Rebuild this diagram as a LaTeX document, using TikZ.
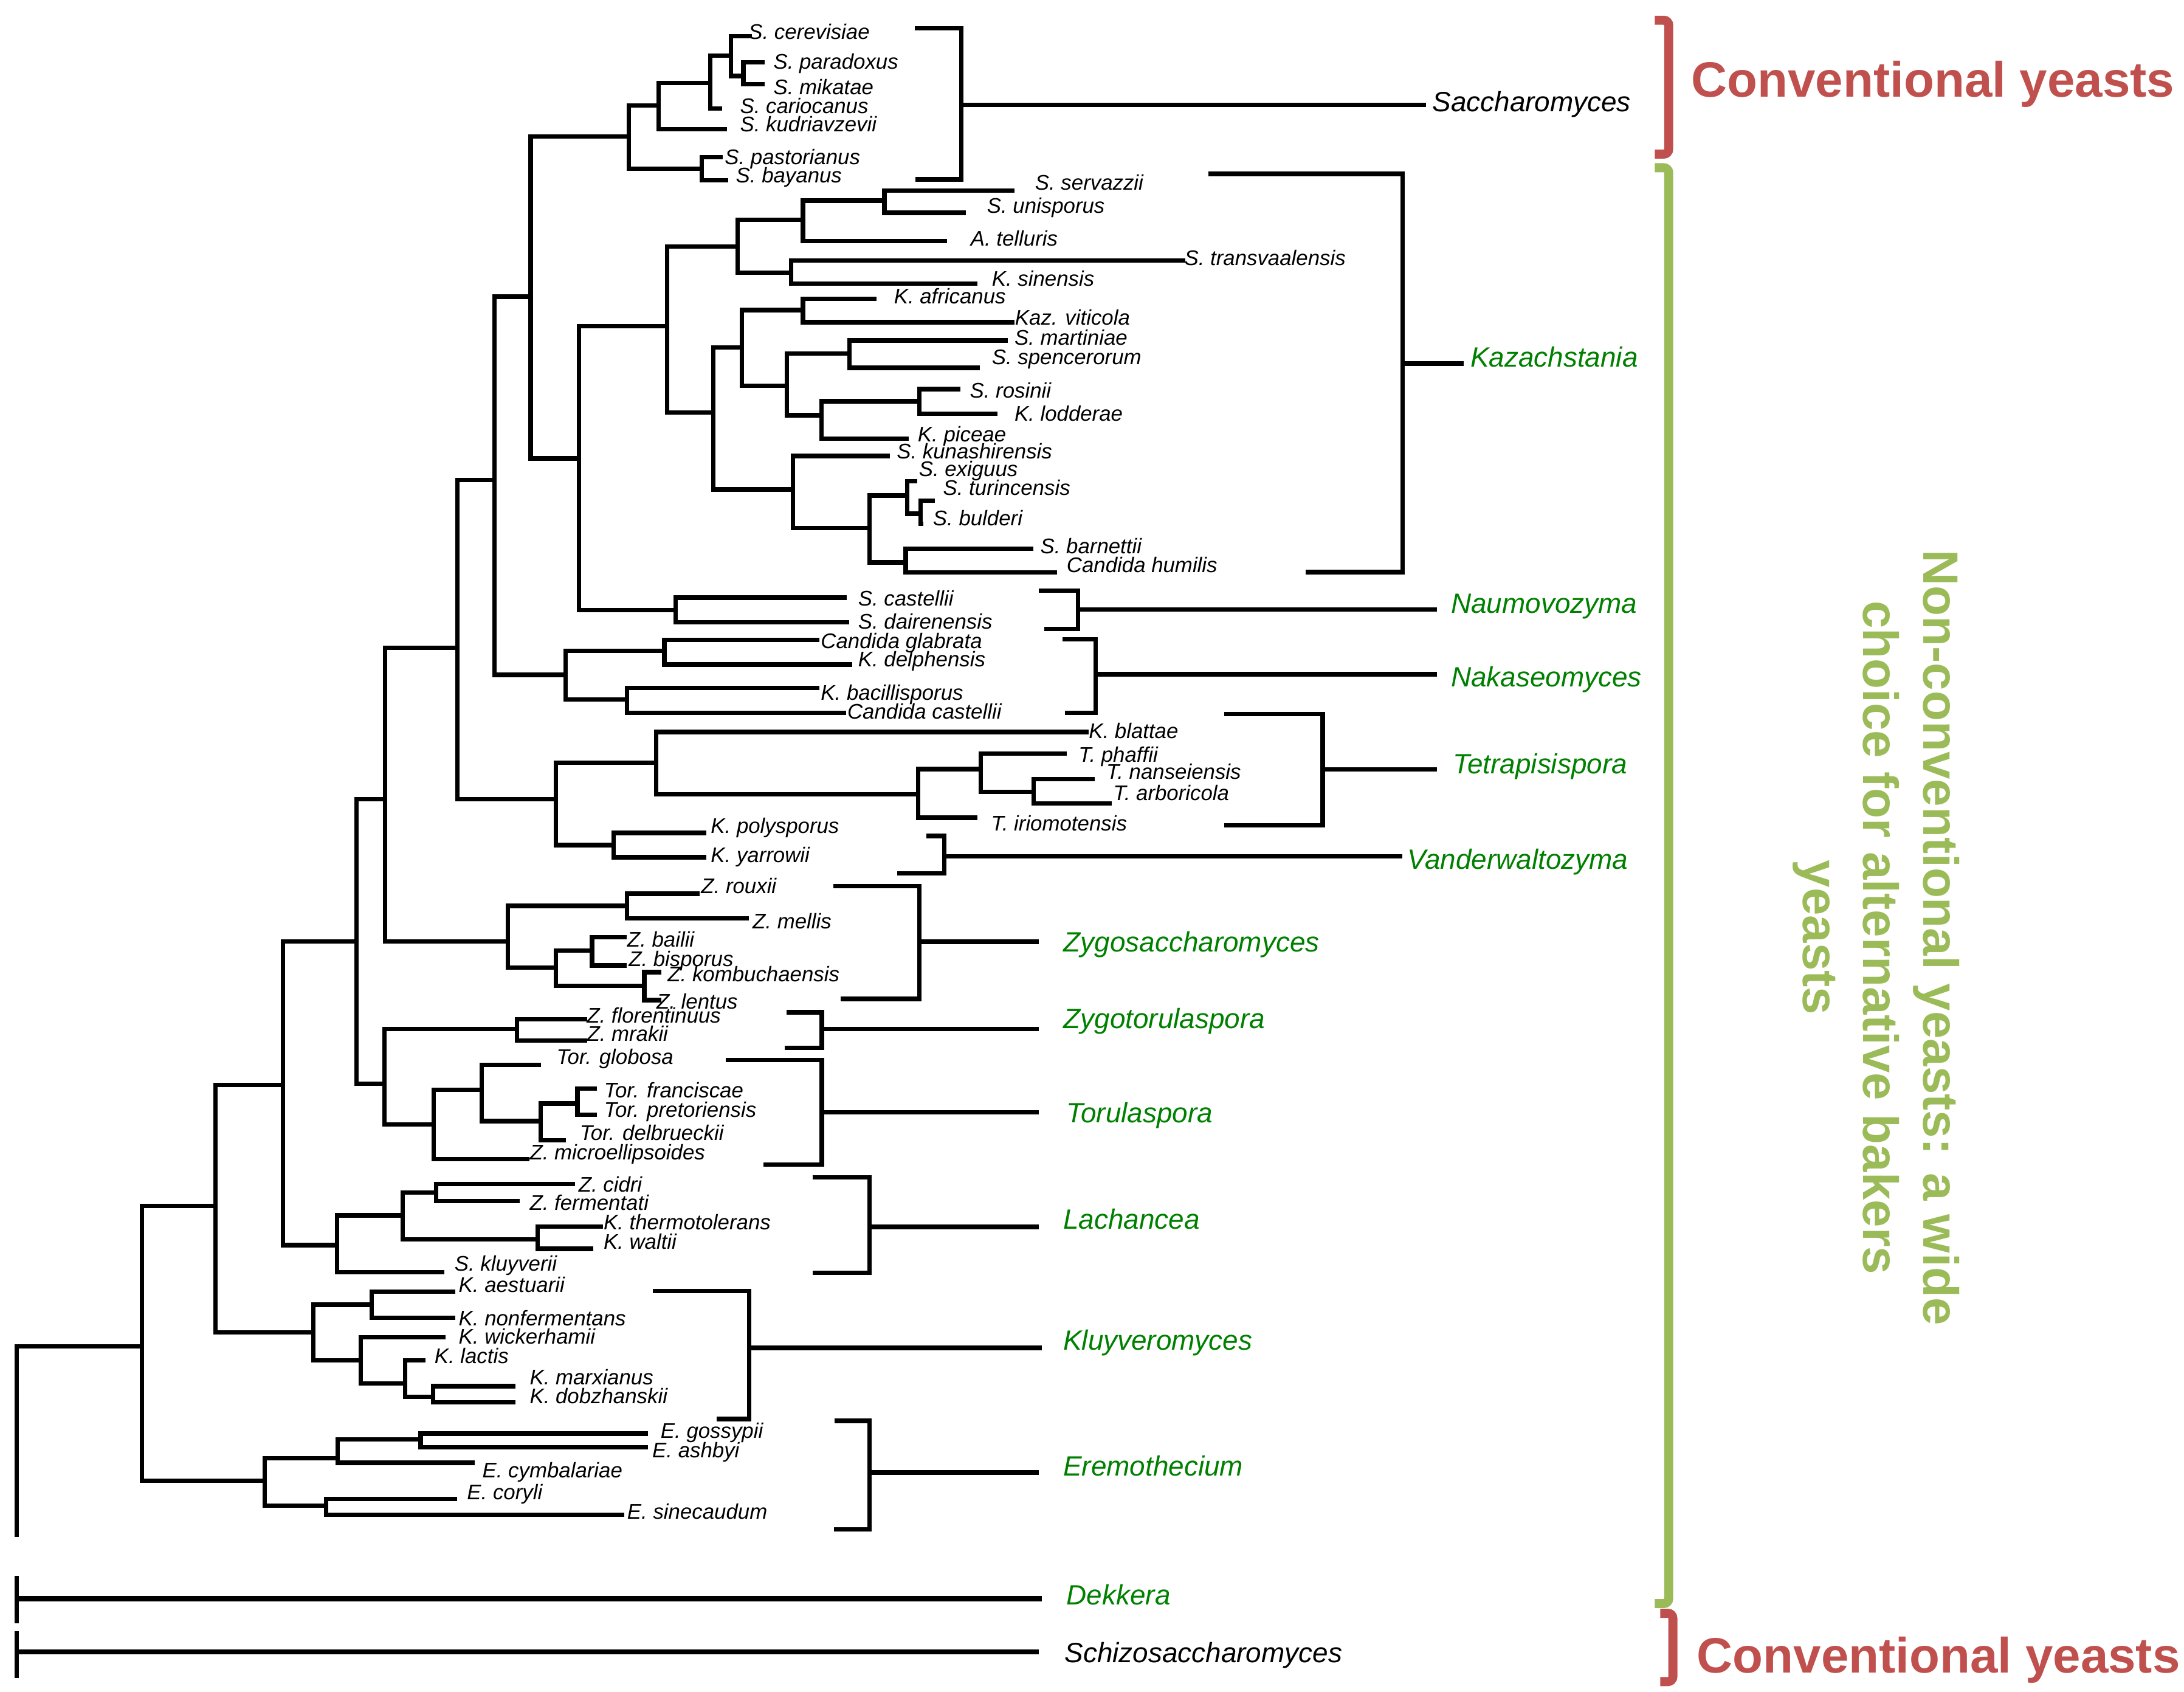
\documentclass[tikz,border=0pt]{standalone}
\usepackage{fontspec}
\setmainfont{Liberation Sans}
\definecolor{cred}{RGB}{192,80,77}
\definecolor{cgreen}{RGB}{155,187,89}
\definecolor{dgreen}{RGB}{0,128,0}
\tikzset{
 br/.style={line width=1.8pt},
 obr/.style={line width=2.1pt},
 sp/.style={anchor=west, inner sep=0pt, font=\fontsize{8.65}{10}\selectfont\itshape, text height=6.2pt, text depth=0pt},
 grp/.style={anchor=west, inner sep=0pt, font=\fontsize{11.4}{13}\selectfont\itshape, text height=8.15pt, text depth=0pt},
 grpg/.style={grp, text=dgreen},
 big/.style={inner sep=0pt, font=\fontsize{20.3}{24.5}\selectfont\bfseries},
 cbr/.style={line width=3.7pt, rounded corners=2pt}
}
\newcommand\mkleaf[6]{\coordinate (#1) at (#2,#3); \node[sp] (#1l) at (#4,#5) {#6};}
\newcommand\mknode[5]{\coordinate (#1) at (#2,#3); \draw[br] (#4) -| (#1) |- (#5);}
\newcommand\mkbrk[8]{\coordinate (#1a) at (#2,#3); \coordinate (#1b) at (#4,#3);
 \coordinate (#1c) at (#4,#6); \coordinate (#1d) at (#5,#6);
 \coordinate (#1s) at (#4,#7); \coordinate (#1e) at (#8,#7);
 \draw[br] (#1a) -- (#1b) -- (#1c) -- (#1d); \draw[br] (#1s) -- (#1e);}
\begin{document}
\begin{tikzpicture}[x=0.02cm,y=-0.02cm]
\useasboundingbox (0,0) rectangle (1568,1214.1);
% ---------- Saccharomyces
\mkleaf{cer}{540}{26}{537}{22.5}{S. cerevisiae}
\mkleaf{par}{549}{44.8}{555}{44}{S. paradoxus}
\mkleaf{mik}{549}{60.4}{555}{62.5}{S. mikatae}
\mkleaf{car}{518.5}{77.8}{531}{76}{S. cariocanus}
\mkleaf{kud}{522}{92.8}{531}{89}{S. kudriavzevii}
\mkleaf{pas}{519}{112.7}{520}{112.7}{S. pastorianus}
\mkleaf{bay}{523}{129.5}{528}{125.7}{S. bayanus}
\mknode{spm}{533.7}{54.5}{par}{mik}
\mknode{scpm}{524.8}{40}{cer}{spm}
\mknode{scpmc}{510}{59.6}{scpm}{car}
\mknode{sfive}{473}{75.6}{scpmc}{kud}
\mknode{spb}{503.7}{121}{pas}{bay}
\mknode{sacc}{451.6}{98}{sfive}{spb}
% ---------- Kazachstania
\mkleaf{serv}{728.4}{136.7}{742.8}{130.8}{S. servazzii}
\mkleaf{unis}{693.5}{152.7}{708.3}{147.6}{S. unisporus}
\mkleaf{tell}{680}{173}{696.5}{171}{A. telluris}
\mkleaf{trans}{850.8}{186.9}{850}{185}{S. transvaalensis}
\mkleaf{sinen}{701.7}{203.7}{711.8}{200}{K. sinensis}
\mkleaf{afri}{629.2}{214.6}{641.5}{212.7}{K. africanus}
\mkleaf{vitic}{728.4}{231.3}{728.4}{228}{Kaz. viticola}
\mkleaf{mart}{723.4}{244.4}{728}{242}{S. martiniae}
\mkleaf{spen}{703.4}{264}{711.8}{256}{S. spencerorum}
\mkleaf{rosi}{689.3}{279.3}{696}{280.2}{S. rosinii}
\mkleaf{lodd}{716}{296.8}{728}{296.8}{K. lodderae}
\mkleaf{pice}{652.4}{315}{658.6}{311.5}{K. piceae}
\mkleaf{kuna}{638.8}{327.3}{643.5}{324}{S. kunashirensis}
\mkleaf{exig}{658.5}{345.5}{659.4}{336.6}{S. exiguus}
\mkleaf{turi}{671}{359.3}{676.8}{350}{S. turincensis}
\mkleaf{buld}{663}{376}{669.5}{372}{S. bulderi}
\mkleaf{barn}{742}{394}{746.6}{391.9}{S. barnettii}
\mkleaf{humi}{759}{411}{765.5}{405.2}{Candida humilis}
\mknode{ksu}{635}{144}{serv}{unis}
\mknode{ksut}{576.5}{157.8}{ksu}{tell}
\mknode{kts}{568}{195.6}{trans}{sinen}
\mknode{ka}{529.7}{176.8}{ksut}{kts}
\mknode{kav}{576.5}{222.6}{afri}{vitic}
\mknode{kms}{610}{253.8}{mart}{spen}
\mknode{krl}{660}{288}{rosi}{lodd}
\mknode{krlp}{589.8}{298}{krl}{pice}
\mknode{kmsrlp}{564.8}{277}{kms}{krlp}
\mknode{kbone}{532.5}{249.5}{kav}{kmsrlp}
\mknode{ktb}{661}{368.8}{turi}{buld}
\mknode{ketb}{651.4}{355.7}{exig}{ktb}
\mknode{kbh}{650.2}{403.7}{barn}{humi}
\mknode{kcthree}{624.3}{379}{ketb}{kbh}
\mknode{kkc}{569.3}{351.3}{kuna}{kcthree}
\mknode{kbtwo}{512}{296}{kbone}{kkc}
\mknode{kaz}{479}{234.2}{ka}{kbtwo}
% ---------- Naumovozyma
\mkleaf{cast}{608}{429}{615.8}{429.6}{S. castellii}
\mkleaf{dair}{609.6}{446.6}{615.8}{446}{S. dairenensis}
\mknode{naum}{485}{437.8}{cast}{dair}
\mknode{nfour}{415.7}{329}{kaz}{naum}
\mknode{nthree}{381}{213}{sacc}{nfour}
% ---------- Nakaseomyces
\mkleaf{glab}{588.3}{459.4}{589}{459.9}{Candida glabrata}
\mkleaf{delp}{611.9}{477}{615.8}{473}{K. delphensis}
\mkleaf{baci}{588.3}{493.9}{589}{497}{K. bacillisporus}
\mkleaf{ccas}{607.3}{511.7}{608}{510.5}{Candida castellii}
\mknode{nkone}{477}{467}{glab}{delp}
\mknode{nktwo}{450}{502}{baci}{ccas}
\mknode{naka}{406.2}{484.4}{nkone}{nktwo}
\mknode{nthreefive}{355}{344.5}{nthree}{naka}
% ---------- Tetrapisispora / Vanderwaltozyma
\mkleaf{blat}{781.4}{525.4}{781.4}{524.7}{K. blattae}
\mkleaf{phaf}{765.7}{540.8}{774}{541.5}{T. phaffii}
\mkleaf{nans}{786}{559.3}{794}{553.7}{T. nanseiensis}
\mkleaf{arbo}{798}{576.8}{799}{569}{T. arboricola}
\mkleaf{irio}{701.8}{587}{711.3}{591}{T. iriomotensis}
\mknode{tna}{742}{568.5}{nans}{arbo}
\mknode{tpna}{704.2}{552}{phaf}{tna}
\mknode{tpnai}{659.3}{570.2}{tpna}{irio}
\mknode{tetra}{471}{547.3}{blat}{tpnai}
\mkleaf{poly}{507}{597.9}{510}{592.6}{K. polysporus}
\mkleaf{yarr}{507}{615.3}{510}{613.5}{K. yarrowii}
\mknode{vand}{440.7}{606.6}{poly}{yarr}
\mknode{tv}{399}{573.5}{tetra}{vand}
\mknode{nthreetwo}{328.5}{465}{nthreefive}{tv}
% ---------- Zygosaccharomyces
\mkleaf{roux}{502.3}{641.5}{503}{635.7}{Z. rouxii}
\mkleaf{mell}{537.7}{659.3}{540}{661}{Z. mellis}
\mkleaf{bail}{450}{672.8}{450}{674.2}{Z. bailii}
\mkleaf{bisp}{450}{693}{451}{688}{Z. bisporus}
\mkleaf{komb}{475}{697.8}{479}{699}{Z. kombuchaensis}
\mkleaf{lent}{475}{717.9}{471}{718.6}{Z. lentus}
\mknode{zrm}{450}{650.2}{roux}{mell}
\mknode{zbb}{425}{682.2}{bail}{bisp}
\mknode{zkl}{462.6}{707.7}{komb}{lent}
\mknode{zbbkl}{399.2}{694.6}{zbb}{zkl}
\mknode{zygo}{364.5}{675.7}{zrm}{zbbkl}
\mknode{ntwoseven}{276.5}{573.6}{nthreetwo}{zygo}
% ---------- Zygotorulaspora / Torulaspora
\mkleaf{flor}{421.7}{731.7}{420.9}{728.8}{Z. florentinuus}
\mkleaf{mrak}{421.7}{747}{421}{742}{Z. mrakii}
\mknode{zt}{371}{738.7}{flor}{mrak}
\mkleaf{glob}{388.3}{764.4}{399.2}{758.6}{Tor. globosa}
\mkleaf{fran}{428.4}{781.4}{433.4}{782.3}{Tor. franciscae}
\mkleaf{pret}{428.4}{800}{433.4}{796.4}{Tor. pretoriensis}
\mkleaf{delb}{406.3}{818.3}{415.9}{813}{Tor. delbrueckii}
\mkleaf{micr}{380}{832}{380}{827}{Z. microellipsoides}
\mknode{tfp}{414.6}{792}{fran}{pret}
\mknode{tfpd}{388.3}{804.7}{tfp}{delb}
\mknode{tg}{345.7}{782.3}{glob}{tfpd}
\mknode{toru}{311.4}{807.2}{tg}{micr}
\mknode{ntwosevenb}{276}{778}{zt}{toru}
\mknode{ntwofive}{256}{675.7}{ntwoseven}{ntwosevenb}
% ---------- Lachancea
\mkleaf{cidr}{413}{850}{415}{850}{Z. cidri}
\mkleaf{ferm}{373}{862}{380}{863}{Z. fermentati}
\mkleaf{ther}{433}{880.4}{433}{877}{K. thermotolerans}
\mkleaf{walt}{426}{896.4}{433}{891}{K. waltii}
\mkleaf{kluy}{319}{913}{326}{907}{S. kluyverii}
\mknode{lcf}{313}{856}{cidr}{ferm}
\mknode{ltw}{386}{889.7}{ther}{walt}
\mknode{lcftw}{289}{872.3}{lcf}{ltw}
\mknode{lach}{242}{893.7}{lcftw}{kluy}
\mknode{ntwozero}{203}{778.8}{ntwofive}{lach}
% ---------- Kluyveromyces
\mkleaf{aest}{327}{927}{329}{922}{K. aestuarii}
\mkleaf{nonf}{327}{946}{329}{946}{K. nonfermentans}
\mkleaf{wick}{320}{960}{329}{959}{K. wickerhamii}
\mkleaf{lact}{305.5}{976.5}{311.6}{973}{K. lactis}
\mkleaf{marx}{370}{995}{380}{988.5}{K. marxianus}
\mkleaf{dobz}{370}{1006.6}{380}{1002}{K. dobzhanskii}
\mknode{klan}{267}{936.5}{aest}{nonf}
\mknode{klmd}{311}{1002.6}{marx}{dobz}
\mknode{kllmd}{291}{993}{lact}{klmd}
\mknode{klwl}{259}{976.5}{wick}{kllmd}
\mknode{kluyv}{225}{956.5}{klan}{klwl}
\mknode{nonefive}{154.6}{865.7}{ntwozero}{kluyv}
% ---------- Eremothecium
\mkleaf{goss}{465}{1029}{474}{1027}{E. gossypii}
\mkleaf{ashb}{465}{1039}{468}{1041}{E. ashbyi}
\mkleaf{cymb}{341}{1050}{346}{1055}{E. cymbalariae}
\mkleaf{cory}{328}{1076}{335}{1071}{E. coryli}
\mkleaf{sine}{448}{1087.4}{450}{1085}{E. sinecaudum}
\mknode{ega}{302}{1033}{goss}{ashb}
\mknode{egac}{242.4}{1046.7}{ega}{cymb}
\mknode{ecs}{234}{1080.7}{cory}{sine}
\mknode{erem}{190}{1062.7}{egac}{ecs}
\mknode{nonezero}{102}{966.5}{nonefive}{erem}
\coordinate (root) at (12,966.5);
\coordinate (rootend) at (12,1103.4);
\draw[br] (nonezero) -- (root) -- (rootend);
% ---------- outgroups
\coordinate (dka) at (12,1131); \coordinate (dkb) at (12,1165);
\coordinate (dkc) at (12,1147.5); \coordinate (dkd) at (748,1147.5);
\draw[br] (dka) -- (dkb); \draw[obr] (dkc) -- (dkd);
\coordinate (sza) at (12,1171); \coordinate (szb) at (12,1204.5);
\coordinate (szc) at (12,1185.6); \coordinate (szd) at (746,1185.6);
\draw[br] (sza) -- (szb); \draw[obr] (szc) -- (szd);
% ---------- brackets
\mkbrk{Bsac}{656.8}{20.4}{690}{657}{128.7}{75.3}{1024}
\mkbrk{Bkaz}{867.5}{124.8}{1007}{937.6}{410.6}{261}{1051}
\mkbrk{Bnau}{746}{424}{774}{749.7}{451.4}{437.4}{1031.6}
\mkbrk{Bnak}{763}{459}{786.7}{764.5}{511.7}{484}{1031.6}
\mkbrk{Btet}{879}{512.6}{949.6}{879}{592.4}{552.3}{1031.6}
\mkbrk{Bvan}{665}{600}{678}{644}{627}{614.6}{1006.6}
\mkbrk{Bzyg}{598.3}{636}{660}{603.7}{717}{676}{745.6}
\mkbrk{Bzto}{564.9}{726.6}{590}{563.6}{752}{738.7}{745.6}
\mkbrk{Btor}{521}{761}{590}{548}{836}{798.3}{745.6}
\mkbrk{Blac}{583.3}{845}{624.3}{583.3}{913.7}{880.6}{745.6}
\mkbrk{Bklu}{468.5}{926.7}{538}{514.3}{1018.5}{967.5}{748}
\mkbrk{Bere}{599}{1019.9}{624.3}{598.8}{1097.6}{1057}{745.6}
% ---------- group labels
\node[grp] (gsac) at (1028,72.7) {Saccharomyces};
\node[grpg] (gkaz) at (1055.3,256) {Kazachstania};
\node[grpg] (gnau) at (1041.4,433) {Naumovozyma};
\node[grpg] (gnak) at (1041.4,485.7) {Nakaseomyces};
\node[grpg] (gtet) at (1042.8,548) {Tetrapisispora};
\node[grpg] (gvan) at (1010,616.7) {Vanderwaltozyma};
\node[grpg] (gzyg) at (763.2,676) {Zygosaccharomyces};
\node[grpg] (gzto) at (763.2,731) {Zygotorulaspora};
\node[grpg] (gtor) at (765.3,798.8) {Torulaspora};
\node[grpg] (glac) at (763,875) {Lachancea};
\node[grpg] (gklu) at (763,962) {Kluyveromyces};
\node[grpg] (gere) at (763,1052) {Eremothecium};
\node[grpg] (gdek) at (765.4,1144.8) {Dekkera};
\node[grp] (gsch) at (764,1186) {Schizosaccharomyces};
% ---------- coloured brackets
\coordinate (raa) at (1188,14.5); \coordinate (rab) at (1198,14.5);
\coordinate (rac) at (1198,110.6); \coordinate (rad) at (1188,110.6);
\draw[cbr, cred] (raa) -- (rab) -- (rac) -- (rad);
\coordinate (gaa) at (1188,120.4); \coordinate (gab) at (1198,120.4);
\coordinate (gac) at (1198,1151); \coordinate (gad) at (1188,1151);
\draw[cbr, cgreen] (gaa) -- (gab) -- (gac) -- (gad);
\coordinate (rba) at (1192,1158); \coordinate (rbb) at (1201,1158);
\coordinate (rbc) at (1201,1207); \coordinate (rbd) at (1192,1207);
\draw[cbr, cred] (rba) -- (rbb) -- (rbc) -- (rbd);
\node[big, text=cred, anchor=west, text height=14.5pt, text depth=0pt] (conva) at (1214,56.7) {Conventional yeasts};
\node[big, text=cred, anchor=west, text height=14.5pt, text depth=0pt] (convb) at (1218,1188) {Conventional yeasts};
\node[big, text=cgreen, rotate=-90, align=center] (nonconv) at (1347,673) {Non-conventional yeasts: a wide\\choice for alternative bakers\\yeasts};
\end{tikzpicture}
\end{document}
